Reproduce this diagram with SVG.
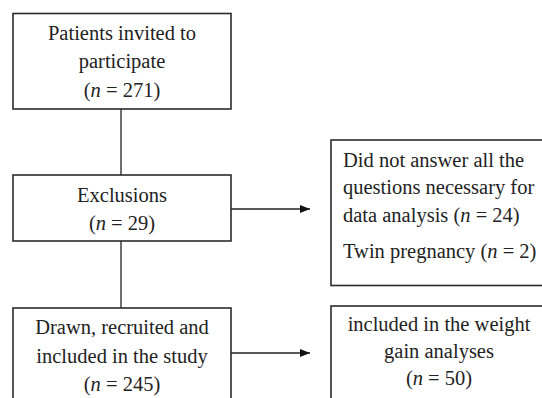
<svg xmlns="http://www.w3.org/2000/svg" width="542" height="398" viewBox="0 0 542 398">
<style>
.box{fill:#fff;stroke:#2b2b2b;stroke-width:1.6}
.t{font-family:"Liberation Serif","Times New Roman",serif;font-size:20.5px;fill:#222}
.c{text-anchor:middle}
.ln{stroke:#222;stroke-width:1.3;fill:none}
</style>
<defs>
<marker id="ah" markerWidth="10" markerHeight="8" refX="10" refY="4" orient="auto" markerUnits="userSpaceOnUse">
<path d="M0,0 L10,4 L0,8 Z" fill="#111"/>
</marker>
</defs>
<rect width="542" height="398" fill="#fff"/>
<g id="connectors">
<line class="ln" x1="121" y1="109" x2="121" y2="175"/>
<line class="ln" x1="121" y1="241" x2="121" y2="308"/>
<line class="ln" x1="231" y1="209" x2="310" y2="209" marker-end="url(#ah)"/>
<line class="ln" x1="231" y1="353" x2="310" y2="353" marker-end="url(#ah)"/>
</g>
<g id="invited">
<rect class="box" x="13" y="13.5" width="218" height="95.5"/>
<text class="t c" x="122" y="40">Patients invited to</text>
<text class="t c" x="122" y="68">participate</text>
<text class="t c" x="122" y="97">(<tspan font-style="italic">n</tspan> = 271)</text>
</g>
<g id="exclusions">
<rect class="box" x="13" y="175" width="218" height="66"/>
<text class="t c" x="122" y="202">Exclusions</text>
<text class="t c" x="122" y="230">(<tspan font-style="italic">n</tspan> = 29)</text>
</g>
<g id="included">
<rect class="box" x="13" y="308" width="218" height="100"/>
<text class="t c" x="122" y="334">Drawn, recruited and</text>
<text class="t c" x="122" y="362.5">included in the study</text>
<text class="t c" x="122" y="390.5">(<tspan font-style="italic">n</tspan> = 245)</text>
</g>
<g id="excl-detail">
<rect class="box" x="331" y="140" width="220" height="145.5"/>
<text class="t" x="343" y="166.5">Did not answer all the</text>
<text class="t" x="343" y="194">questions necessary for</text>
<text class="t" x="343" y="221.5">data analysis (<tspan font-style="italic">n</tspan> = 24)</text>
<text class="t" x="343" y="258">Twin pregnancy (<tspan font-style="italic">n</tspan> = 2)</text>
</g>
<g id="weight">
<rect class="box" x="331" y="306" width="220" height="100"/>
<text class="t c" x="439" y="331">included in the weight</text>
<text class="t c" x="439" y="358">gain analyses</text>
<text class="t c" x="439" y="385">(<tspan font-style="italic">n</tspan> = 50)</text>
</g>
</svg>
